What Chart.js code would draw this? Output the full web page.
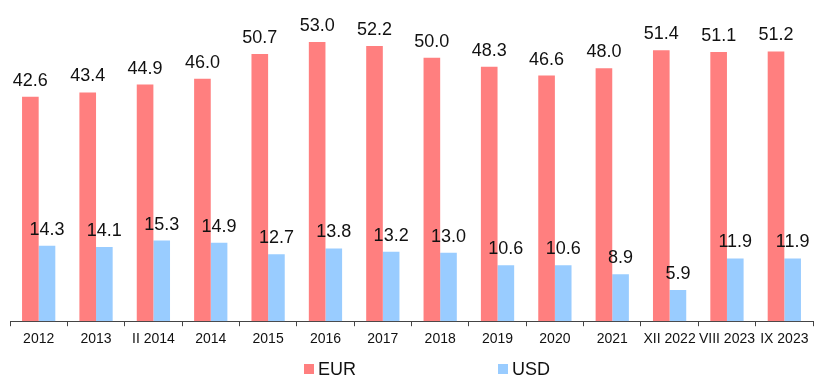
<!DOCTYPE html>
<html>
<head>
<meta charset="utf-8">
<script src="https://cdn.jsdelivr.net/npm/chart.js@4/dist/chart.umd.min.js"></script>
<style>
  html, body { margin: 0; padding: 0; background: #ffffff; }
  #wrap { width: 822px; height: 382px; position: relative; }
</style>
</head>
<body>
<div id="wrap"><canvas id="c" width="822" height="382"></canvas></div>
<script>
// Periods on the category axis
const periods = ['2012', '2013', 'II 2014', '2014', '2015', '2016', '2017', '2018',
                 '2019', '2020', '2021', 'XII 2022', 'VIII 2023', 'IX 2023'];
// Share by currency, %
const eurShare = [42.6, 43.4, 44.9, 46.0, 50.7, 53.0, 52.2, 50.0, 48.3, 46.6, 48.0, 51.4, 51.1, 51.2];
const usdShare = [14.3, 14.1, 15.3, 14.9, 12.7, 13.8, 13.2, 13.0, 10.6, 10.6, 8.9, 5.9, 11.9, 11.9];

const EUR_COLOR = '#ff7f7f';
const USD_COLOR = '#99ccff';
const FONT = '"Liberation Sans", Arial, sans-serif';

// Value labels above every bar
const valueLabels = {
  id: 'valueLabels',
  afterDatasetsDraw(chart) {
    const ctx = chart.ctx;
    ctx.save();
    ctx.font = '18px ' + FONT;
    ctx.fillStyle = '#111111';
    ctx.textAlign = 'center';
    ctx.textBaseline = 'bottom';
    chart.data.datasets.forEach((ds, i) => {
      chart.getDatasetMeta(i).data.forEach((bar, j) => {
        ctx.fillText(ds.data[j].toFixed(1), bar.x, bar.y - 7);
      });
    });
    ctx.restore();
  }
};

// Legend centred under the axis, with wide spacing between the entries
const spacedLegend = {
  id: 'spacedLegend',
  afterDraw(chart) {
    const ctx = chart.ctx;
    const y = 369;
    const entries = [
      { x: 304, text: chart.data.datasets[0].label, color: EUR_COLOR },
      { x: 498, text: chart.data.datasets[1].label, color: USD_COLOR }
    ];
    ctx.save();
    ctx.font = '18px ' + FONT;
    ctx.textBaseline = 'middle';
    ctx.textAlign = 'left';
    entries.forEach(e => {
      ctx.fillStyle = e.color;
      ctx.fillRect(e.x, y - 5, 10, 10);
      ctx.fillStyle = '#111111';
      ctx.fillText(e.text, e.x + 14, y + 1);
    });
    ctx.restore();
  }
};

new Chart(document.getElementById('c'), {
  type: 'bar',
  data: {
    labels: periods,
    datasets: [
      { label: 'EUR', data: eurShare, backgroundColor: EUR_COLOR },
      { label: 'USD', data: usdShare, backgroundColor: USD_COLOR }
    ]
  },
  options: {
    responsive: false,
    animation: false,
    devicePixelRatio: 1,
    layout: { padding: { left: 10, right: 9, top: 5, bottom: 29 } },
    datasets: { bar: { categoryPercentage: 0.58, barPercentage: 1.0 } },
    plugins: {
      legend: { display: false },
      tooltip: { enabled: false }
    },
    scales: {
      x: {
        grid: {
          display: true,
          drawOnChartArea: false,
          drawTicks: true,
          tickLength: 5,
          color: '#444444',
          offset: true
        },
        border: { display: true, color: '#444444', width: 1 },
        ticks: {
          color: '#111111',
          font: { family: FONT, size: 14 },
          padding: 5,
          maxRotation: 0,
          autoSkip: false
        }
      },
      y: {
        display: false,
        min: 0,
        max: 60
      }
    }
  },
  plugins: [valueLabels, spacedLegend]
});
</script>
</body>
</html>
